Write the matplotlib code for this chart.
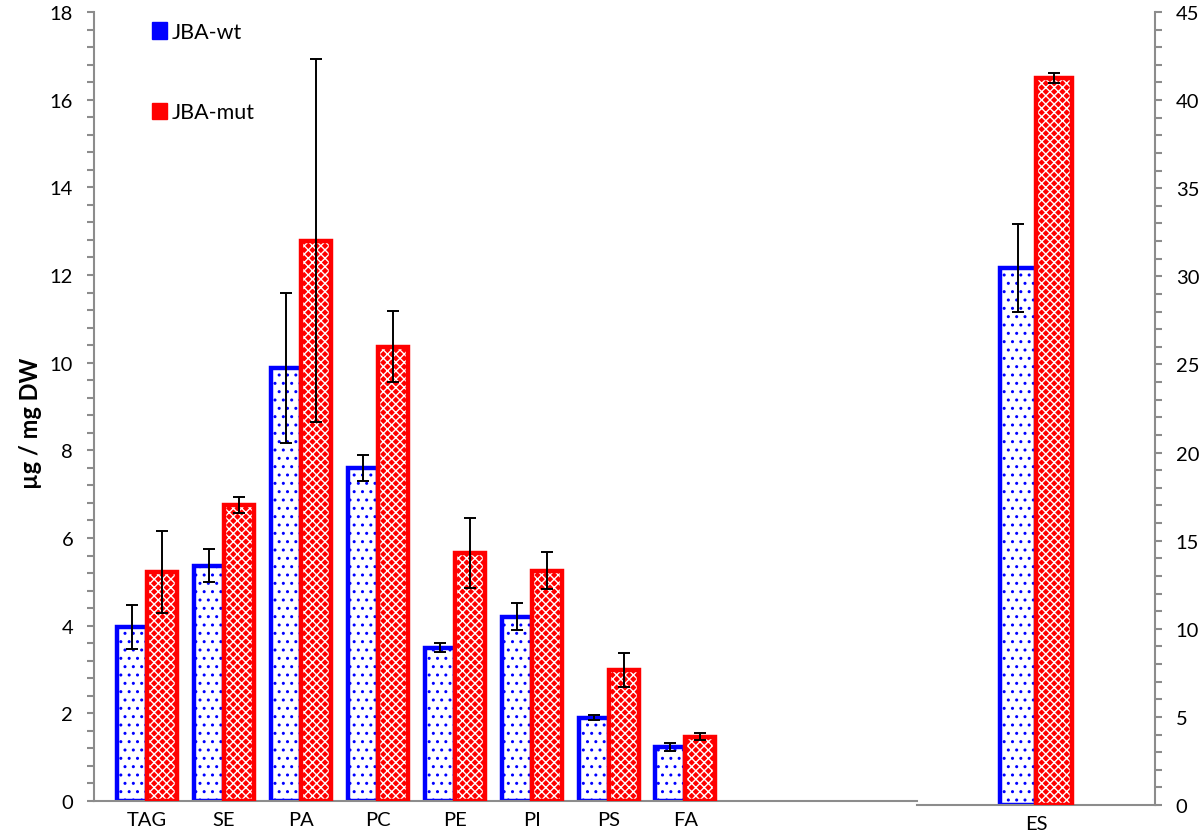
import matplotlib.pyplot as plt
import numpy as np
from matplotlib.patches import Patch
from matplotlib.ticker import MultipleLocator

plt.rcParams['font.family'] = ['Lato', 'DejaVu Sans']
plt.rcParams['hatch.linewidth'] = 1.0

# lipid classes on the left axis
categories = ['TAG', 'SE', 'PA', 'PC', 'PE', 'PI', 'PS', 'FA']
wt_vals = [3.97, 5.37, 9.88, 7.60, 3.50, 4.20, 1.90, 1.23]
wt_err = [0.50, 0.38, 1.72, 0.30, 0.10, 0.31, 0.06, 0.10]
mut_vals = [5.22, 6.75, 12.78, 10.36, 5.65, 5.25, 2.98, 1.47]
mut_err = [0.93, 0.18, 4.14, 0.81, 0.80, 0.42, 0.39, 0.08]

# ES on the secondary (right) axis
es_label = ['ES']
es_wt = [30.45]
es_wt_err = [2.5]
es_mut = [41.25]
es_mut_err = [0.3]

BLUE = '#0000ff'
RED = '#ff0000'
GRAY = '#8c8c8c'
FS = 14.5

fig = plt.figure(figsize=(12, 8.37), dpi=100)
ax1 = fig.add_axes([94 / 1200, 35 / 837, 823 / 1200, 789 / 837])
ax2 = fig.add_axes([917 / 1200, 31 / 837, 238 / 1200, 793 / 837])


def draw_pair(ax, x, wt, wte, mut, mute, off, width):
    ax.bar(x - off, wt, width, facecolor='white', edgecolor=BLUE,
           hatch='..', linewidth=3.2, zorder=2)
    ax.bar(x + off, mut, width, facecolor=RED, edgecolor='white',
           hatch='xxxx', linewidth=0, zorder=3)
    ax.bar(x + off, mut, width, fill=False, edgecolor=RED,
           linewidth=3.2, zorder=3)
    ax.errorbar(x - off, wt, yerr=wte, fmt='none', ecolor='black',
                elinewidth=1.4, capsize=4, capthick=1.4, zorder=4)
    ax.errorbar(x + off, mut, yerr=mute, fmt='none', ecolor='black',
                elinewidth=1.4, capsize=4, capthick=1.4, zorder=4)


x = np.arange(len(categories))
draw_pair(ax1, x, wt_vals, wt_err, mut_vals, mut_err, 0.195, 0.39)
ax1.set_xlim(-0.69, 10.01)
ax1.set_ylim(0, 18)
ax1.yaxis.set_major_locator(MultipleLocator(2))
ax1.yaxis.set_minor_locator(MultipleLocator(0.4))
ax1.set_xticks(x)
ax1.set_xticklabels(categories)

xe = np.arange(len(es_label))
draw_pair(ax2, xe, es_wt, es_wt_err, es_mut, es_mut_err, 0.15, 0.30)
ax2.set_xlim(-1, 1)
ax2.set_ylim(0, 45)
ax2.yaxis.tick_right()
ax2.yaxis.set_major_locator(MultipleLocator(5))
ax2.yaxis.set_minor_locator(MultipleLocator(1))
ax2.set_xticks(xe)
ax2.set_xticklabels(es_label)

for ax in (ax1, ax2):
    ax.patch.set_alpha(0)
    for s in ax.spines.values():
        s.set_color(GRAY)
        s.set_linewidth(1.5)
    ax.spines['top'].set_visible(False)
    ax.tick_params(axis='x', length=0, pad=7, labelsize=FS)
    ax.tick_params(axis='y', which='both', length=5, width=1.5,
                   color=GRAY, pad=10, labelsize=FS)
ax1.spines['right'].set_visible(False)
ax2.spines['left'].set_visible(False)
ax2.tick_params(axis='x', pad=7)

fig.text(30 / 1200, 1 - 423 / 837, 'µg / mg DW', rotation=90,
         ha='center', va='center', fontsize=17, fontweight='bold')

handles = [Patch(facecolor=BLUE, edgecolor=BLUE),
           Patch(facecolor=RED, edgecolor=RED)]
ax1.legend(handles, ['JBA-wt', 'JBA-mut'], loc='upper left',
           bbox_to_anchor=(152 / 1200, 1 - 23 / 837),
           bbox_transform=fig.transFigure, frameon=False, fontsize=15.5,
           handlelength=0.7, handleheight=0.8, handletextpad=0.2,
           labelspacing=2.8, borderpad=0, borderaxespad=0)

fig.savefig('out.png', dpi=100)
